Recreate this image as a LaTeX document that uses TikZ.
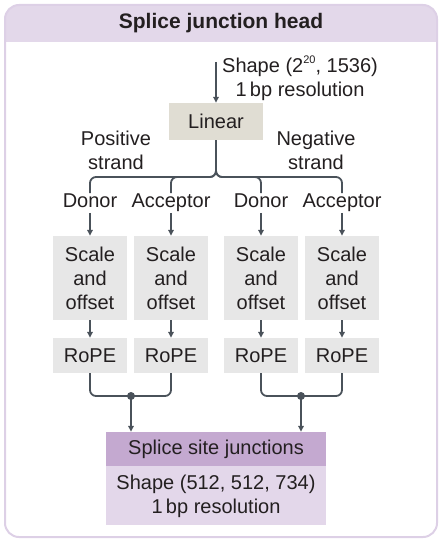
\documentclass[tikz,border=0pt]{standalone}
\usepackage{fontspec}
\setmainfont{Liberation Sans}
\usetikzlibrary{arrows.meta,calc}
\definecolor{ink}{HTML}{231F20}
\definecolor{wire}{HTML}{4A525A}
\definecolor{framecol}{HTML}{DDD0E6}
\definecolor{framehdr}{HTML}{E3D8EA}
\definecolor{linfill}{HTML}{E0DDD3}
\definecolor{boxfill}{HTML}{E7E7E7}
\definecolor{outhdr}{HTML}{C4A9D0}
\definecolor{outbody}{HTML}{E3D7EA}
\tikzset{
  txt/.style={font=\fontsize{20}{24}\selectfont, text=ink},
  wirestyle/.style={draw=wire, line width=1.8pt},
  arr/.style={wirestyle, -{Triangle[length=6pt,width=5.5pt]}},
  lbl/.style={txt, inner sep=1pt, text height=13.5pt, text depth=4pt},
  opbox/.style={txt, fill=boxfill, minimum width=74pt, inner sep=0pt, align=center},
}
\begin{document}
\begin{tikzpicture}[x=1pt,y=-1pt]
\useasboundingbox (0,0) rectangle (447,543);
% frame
\begin{scope}
  \clip[rounded corners=14pt] (5,5) rectangle (437,537);
  \fill[framehdr] (5,5) rectangle (437,42);
\end{scope}
\draw[framecol, line width=2pt, rounded corners=14pt] (5,5) rectangle (437,537);
\node[font=\bfseries\fontsize{21}{24}\selectfont, text=ink] (title) at (221,23) {Splice junction head};

% input
\coordinate (in) at (216,62);
\node[txt, align=center] (inshape) at (300,78) {Shape (2\raisebox{0.45em}{\fontsize{11}{11}\selectfont 20}, 1536)\\1\,bp resolution};
\node[txt, fill=linfill, minimum width=94pt, minimum height=37pt, inner sep=0pt] (lin) at (216,121.5) {Linear};
\draw[arr] (in) -- (lin.north);

% strand labels
\node[txt, align=center] (pos) at (116,150) {Positive\\strand};
\node[txt, align=center] (neg) at (316,150) {Negative\\strand};

% donor/acceptor labels
\node[lbl] (d1) at (90,203) {Donor};
\node[lbl] (a1) at (171,203) {Acceptor};
\node[lbl] (d2) at (261,203) {Donor};
\node[lbl] (a2) at (342,203) {Acceptor};

\coordinate (split) at (216,177);
\foreach \n in {d1,a1,d2,a2}{
  \draw[wirestyle, rounded corners=6pt] (lin.south) -- (split) -| (\n.north);
}

% scale and offset
\foreach \n/\x in {s1/90,s2/171,s3/261,s4/342}{
  \node[opbox, minimum height=84pt] (\n) at (\x,278) {Scale\\and\\offset};
}
\foreach \n/\x in {r1/90,r2/171,r3/261,r4/342}{
  \node[opbox, minimum height=35pt] (\n) at (\x,355.5) {RoPE};
}
\foreach \a/\b in {d1/s1,a1/s2,d2/s3,a2/s4}{
  \draw[arr] (\a.south) -- (\b.north);
}
\foreach \a/\b in {s1/r1,s2/r2,s3/r3,s4/r4}{
  \draw[arr] (\a.south) -- (\b.north);
}

% output
\node[txt, fill=outhdr, minimum width=220pt, minimum height=34pt, inner sep=0pt] (ohdr) at (216,449) {Splice site junctions};
\node[txt, fill=outbody, minimum width=220pt, minimum height=59pt, inner sep=0pt, align=center, anchor=north] (obody) at (ohdr.south) {Shape (512, 512, 734)\\1\,bp resolution};

\coordinate (j1) at (131,396);
\coordinate (j2) at (301,396);
\draw[wirestyle, rounded corners=6pt] (r1.south) |- (j1) -| (r2.south);
\draw[wirestyle, rounded corners=6pt] (r3.south) |- (j2) -| (r4.south);
\draw[arr] (j1) -- (j1 |- ohdr.north);
\draw[arr] (j2) -- (j2 |- ohdr.north);
\fill[wire] (j1) circle (4pt);
\fill[wire] (j2) circle (4pt);
\end{tikzpicture}
\end{document}
